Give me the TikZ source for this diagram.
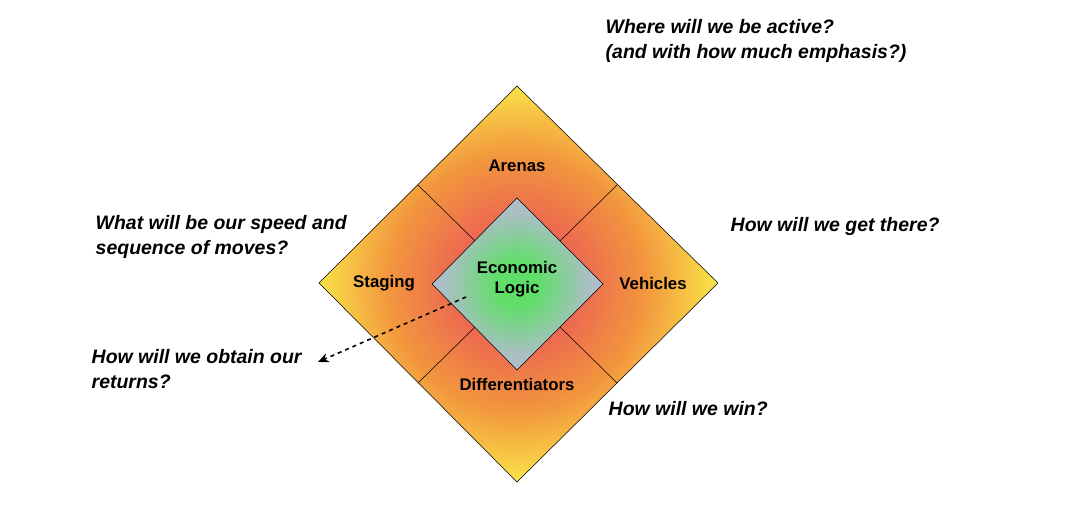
\documentclass[tikz,border=0pt]{standalone}
\usepackage{fontspec}
\setmainfont{Liberation Sans}
\usetikzlibrary{arrows.meta,positioning}
\definecolor{quadred}{RGB}{236,100,82}
\definecolor{quadorange}{RGB}{242,150,62}
\definecolor{quadyellow}{RGB}{250,228,72}
\definecolor{coregreen}{RGB}{95,222,105}
\definecolor{coregray}{RGB}{172,190,198}
\pgfdeclareradialshading{quadshade}{\pgfpoint{0bp}{0bp}}{color(0bp)=(quadred);color(7bp)=(quadred);color(16bp)=(quadorange);color(25bp)=(quadyellow);color(50bp)=(quadyellow)}
\pgfdeclareradialshading{coreshade}{\pgfpoint{0bp}{0bp}}{color(0bp)=(coregreen);color(6bp)=(coregreen);color(21bp)=(coregray);color(50bp)=(coregray)}
\tikzset{
  part/.style={font=\bfseries\fontsize{12.6}{15}\selectfont, align=center},
  question/.style={font=\bfseries\itshape\fontsize{14.6}{18.8}\selectfont, align=left, anchor=west}
}

\begin{document}
\begin{tikzpicture}[x=0.75pt,y=-0.75pt]
    \useasboundingbox (0,0) rectangle (1072,506);
    % Outer diamond with the four quadrants
    \begin{scope}
        \clip (517,86) -- (718,283) -- (517,482) -- (319,283) -- cycle;
        \shade[shading=quadshade] (517,283) circle (200);
    \end{scope}
    \draw (517,86) -- (718,283) -- (517,482) -- (319,283) -- cycle;
    \draw (418,185) -- (475,241);
    \draw (617,185) -- (560,241);
    \draw (418,383) -- (475,327);
    \draw (617,383) -- (560,327);

    % Central diamond
    \begin{scope}
        \clip (517,198) -- (603,284) -- (517,370) -- (432,284) -- cycle;
        \shade[shading=coreshade] (517,284) circle (86);
    \end{scope}
    \draw (517,198) -- (603,284) -- (517,370) -- (432,284) -- cycle;

    \node[part] (logic) at (517,279) {Economic\\Logic};
    \node[part] (arenas) at (517,166) {Arenas};
    \node[part] (staging) at (384,283) {Staging};
    \node[part] (vehicles) at (653,283) {Vehicles};
    \node[part] (diff) at (517,384) {Differentiators};

    % Questions
    \node[question] (qwhere) at (601,41) {Where will we be active?\\(and with how much emphasis?)};
    \node[question] (qhow) at (726,226) {How will we get there?};
    \node[question] (qwin) at (604,409) {How will we win?};
    \node[question] (qspeed) at (91,237) {What will be our speed and\\sequence of moves?};
    \node[question] (qreturn) at (87,369) {How will we obtain our\\returns?};

    \coordinate (arrowstart) at (466,297);
    \coordinate (arrowend) at (318,362);
    \draw[line width=1.2pt, dashed, -{Stealth[length=8pt,width=7pt]}] (arrowstart) -- (arrowend);
\end{tikzpicture}
\end{document}
